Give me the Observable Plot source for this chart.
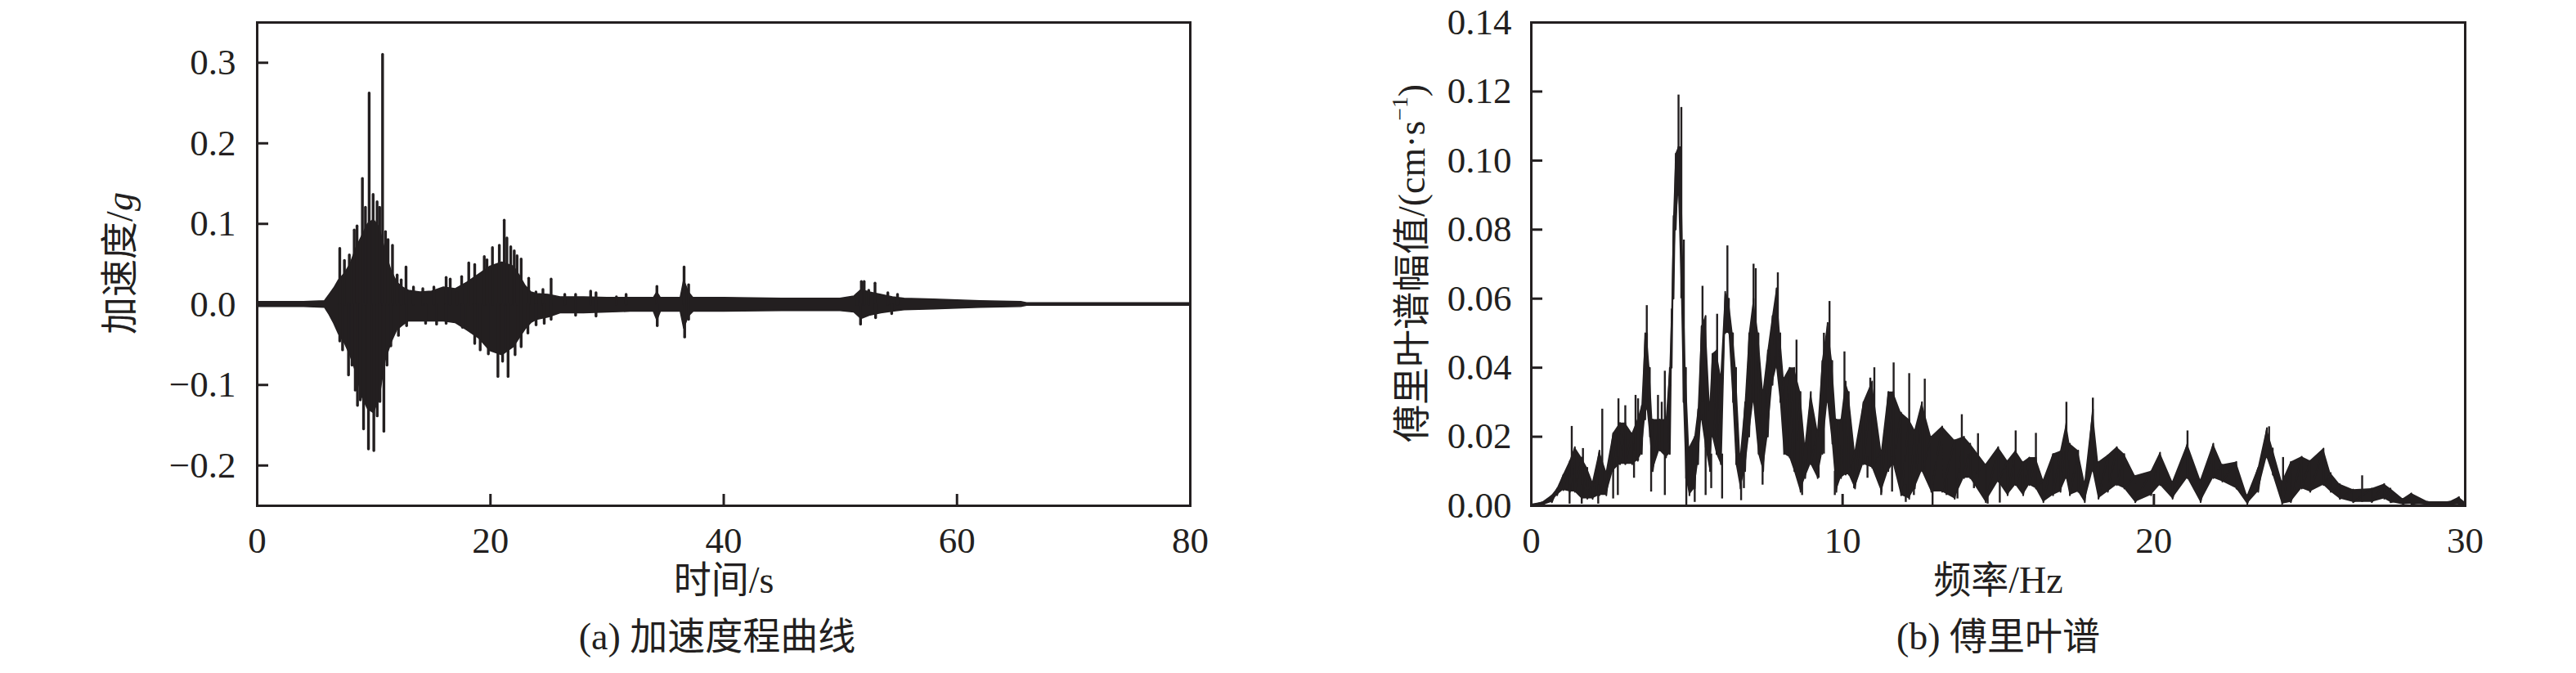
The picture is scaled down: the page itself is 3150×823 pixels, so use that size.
<!DOCTYPE html>
<html>
<head>
<meta charset="utf-8">
<script src="https://cdn.jsdelivr.net/npm/d3@7"></script>
<script src="https://cdn.jsdelivr.net/npm/@observablehq/plot@0.6"></script>
<style>
  html, body { margin: 0; padding: 0; background: #fff; }
  #wrap { position: relative; width: 3150px; height: 823px; background: #fff; overflow: hidden; }
  .panel { position: absolute; top: 0; }
  .ylab { position: absolute; transform: translate(-50%, -50%) rotate(-90deg); white-space: nowrap;
          font-family: "Liberation Serif", "Noto Sans CJK SC", serif; font-size: 46px; color: #231f20; line-height: 1; }
  .ylab sup { font-size: 0.6em; vertical-align: 0.75em; line-height: 0; }
</style>
</head>
<body>
<div id="wrap">
  <div class="panel" id="pa" style="left:0px"></div>
  <div class="panel" id="pb" style="left:1575px"></div>
  <div class="ylab" style="left:147px; top:322px">加速度/<i>g</i></div>
  <div class="ylab" style="left:1727px; top:322px">傅里叶谱幅值/(cm·s<sup>−1</sup>)</div>
</div>
<script>
const INK = "#231f20";
const FONT = '"Liberation Serif", "Noto Sans CJK SC", serif';

// ---------- (a) acceleration time history ----------
const accXTicks = [0, 20, 40, 60, 80];
const accYTicks = [-0.2, -0.1, 0.0, 0.1, 0.2, 0.3];
const accXLabel = "时间/s";
const accCaption = "(a) 加速度程曲线";

// envelope of the dense trace (time s, upper g, lower g)
const accEnvT  = [0, 2, 4, 5.8, 6.2, 6.6, 7.0, 7.5, 8.0, 8.5, 9.0, 9.5, 10.0, 10.5, 11.0, 11.5, 12.0, 12.5, 13.0, 14.0, 15.0, 16.0, 17.0, 18.0, 19.0, 20.0, 21.0, 22.0, 22.5, 23.0, 23.5, 24.0, 25.0, 26.0, 28.0, 30.0, 32.0, 34.0, 34.3, 34.6, 36.3, 36.6, 37.0, 37.4, 40, 45, 50, 51.2, 51.8, 52.5, 53.5, 54.5, 55.5, 58, 62, 65.5, 66, 80];
const accEnvHi = [0.003, 0.003, 0.003, 0.004, 0.012, 0.02, 0.03, 0.038, 0.05, 0.07, 0.085, 0.10, 0.105, 0.095, 0.065, 0.042, 0.027, 0.021, 0.017, 0.015, 0.016, 0.021, 0.019, 0.027, 0.037, 0.047, 0.052, 0.047, 0.036, 0.023, 0.015, 0.013, 0.012, 0.009, 0.009, 0.008, 0.008, 0.008, 0.015, 0.008, 0.008, 0.03, 0.015, 0.008, 0.008, 0.007, 0.007, 0.01, 0.018, 0.015, 0.012, 0.009, 0.007, 0.006, 0.004, 0.003, 0.0015, 0.0015];
const accEnvLo = [-0.003, -0.003, -0.003, -0.004, -0.013, -0.024, -0.037, -0.048, -0.064, -0.085, -0.115, -0.13, -0.135, -0.115, -0.07, -0.048, -0.032, -0.026, -0.021, -0.021, -0.021, -0.021, -0.023, -0.032, -0.042, -0.058, -0.063, -0.053, -0.042, -0.031, -0.023, -0.019, -0.016, -0.011, -0.011, -0.01, -0.009, -0.009, -0.02, -0.009, -0.009, -0.03, -0.015, -0.009, -0.009, -0.008, -0.008, -0.01, -0.018, -0.014, -0.011, -0.009, -0.007, -0.006, -0.004, -0.003, -0.0015, -0.0015];

// individual peaks of the trace (time s, value g)
const accSpikeT = [7.08, 7.48, 7.9, 8.32, 8.56, 9.02, 9.28, 9.6, 9.94, 10.28, 10.5, 10.75, 11.0, 11.22, 11.6, 12.0, 12.35, 12.76, 13.4, 14.2, 15.15, 16.2, 16.55, 17.13, 17.53, 18.14, 18.65, 19.47, 19.7, 20.17, 20.76, 21.18, 21.41, 21.74, 22.04, 22.28, 22.63, 23.28, 23.9, 24.5, 25.2, 26.37, 27.3, 28.59, 29.05, 30.8, 31.63, 34.27, 36.6, 36.99, 51.43, 51.8, 52.04, 52.43, 52.97, 54.07, 54.9,
  7.08, 7.32, 7.83, 8.13, 8.41, 8.6, 8.84, 9.12, 9.54, 10.0, 10.29, 10.52, 10.86, 11.13, 11.46, 12.11, 12.81, 14.44, 15.38, 16.2, 17.6, 18.07, 18.65, 19.12, 19.82, 20.64, 21.04, 21.51, 22.11, 22.63, 23.21, 23.91, 24.61, 25.2, 27.3, 29.05, 34.3, 36.65, 36.99, 51.73, 53.02, 54.4];
const accSpikeV = [0.069, 0.054, 0.061, 0.092, 0.097, 0.156, 0.12, 0.262, 0.136, 0.127, 0.12, 0.310, 0.09, 0.080, 0.073, 0.036, 0.03, 0.046, 0.021, 0.019, 0.021, 0.033, 0.031, 0.014, 0.034, 0.051, 0.049, 0.059, 0.055, 0.070, 0.073, 0.104, 0.082, 0.071, 0.066, 0.060, 0.056, 0.032, 0.015, 0.018, 0.031, 0.012, 0.012, 0.016, 0.014, 0.009, 0.012, 0.022, 0.046, 0.024, 0.012, 0.028, 0.028, 0.017, 0.026, 0.014, 0.012,
  -0.046, -0.057, -0.088, -0.076, -0.107, -0.126, -0.119, -0.155, -0.180, -0.182, -0.139, -0.121, -0.158, -0.076, -0.052, -0.039, -0.027, -0.024, -0.025, -0.024, -0.029, -0.027, -0.049, -0.057, -0.062, -0.090, -0.071, -0.090, -0.063, -0.053, -0.036, -0.026, -0.024, -0.019, -0.014, -0.015, -0.027, -0.041, -0.019, -0.025, -0.017, -0.012];

// ---------- (b) Fourier spectrum ----------
const specXTicks = [0, 10, 20, 30];
const specYTicks = [0, 0.02, 0.04, 0.06, 0.08, 0.10, 0.12, 0.14];
const specXLabel = "频率/Hz";
const specCaption = "(b) 傅里叶谱";

const specEnvF  = [0, 0.35, 0.66, 0.83, 1.03, 1.24, 1.40, 1.62, 1.8, 1.97, 2.19, 2.41, 2.63, 2.85, 3.02, 3.24, 3.42, 3.55, 3.66, 3.72, 3.81, 3.9, 4.12, 4.33, 4.45, 4.51, 4.57, 4.64, 4.73, 4.82, 4.89, 4.97, 5.08, 5.25, 5.36, 5.47, 5.6, 5.74, 5.82, 5.95, 6.09, 6.23, 6.35, 6.48, 6.58, 6.72, 6.87, 7.0,
  7.14, 7.3, 7.45, 7.6, 7.75, 7.88, 8.0, 8.12, 8.3, 8.45, 8.65, 8.8, 8.98, 9.2, 9.35, 9.52, 9.67, 9.8, 9.95, 10.1, 10.2, 10.4, 10.67, 10.95, 11.25, 11.47, 11.63, 11.88, 12.14, 12.32, 12.55, 12.85, 13.2, 13.6, 13.9, 14.1, 14.6, 15.0, 15.3,
  15.56, 15.8, 16.0, 16.21, 16.45, 16.76, 17.0, 17.19, 17.3, 17.57, 17.78, 18.04, 18.22, 18.52, 18.81, 19.05, 19.4, 19.91, 20.2, 20.6, 21.08, 21.5, 21.91, 22.2, 22.65, 23.0, 23.35, 23.63, 23.82, 24.12, 24.4, 24.75, 25.02, 25.45, 25.68, 25.97, 26.4, 27.0, 27.4, 27.6, 28.0, 28.27, 28.8, 29.5, 29.8, 30];
const specEnvHi = [0.0005, 0.001, 0.003, 0.005, 0.009, 0.013, 0.017, 0.014, 0.011, 0.007, 0.016, 0.010, 0.021, 0.024, 0.024, 0.021, 0.025, 0.029, 0.050, 0.050, 0.040, 0.025, 0.025, 0.025, 0.040, 0.057, 0.084, 0.102, 0.104, 0.104, 0.070, 0.040, 0.017, 0.020, 0.028, 0.052, 0.055, 0.030, 0.044, 0.045, 0.038, 0.062, 0.060, 0.050, 0.040, 0.015, 0.030, 0.050,
  0.060, 0.050, 0.0335, 0.045, 0.055, 0.063, 0.050, 0.037, 0.040, 0.040, 0.033, 0.018, 0.033, 0.022, 0.042, 0.053, 0.042, 0.025, 0.025, 0.036, 0.033, 0.016, 0.030, 0.036, 0.016, 0.033, 0.033, 0.027, 0.025, 0.022, 0.030, 0.020, 0.023, 0.019, 0.020, 0.018, 0.012, 0.017, 0.013,
  0.016, 0.0127, 0.014, 0.014, 0.0075, 0.015, 0.0158, 0.024, 0.018, 0.016, 0.007, 0.028, 0.0127, 0.0146, 0.017, 0.015, 0.0087, 0.010, 0.0154, 0.007, 0.018, 0.0075, 0.018, 0.0119, 0.0127, 0.003, 0.011, 0.0225, 0.0166, 0.007, 0.0127, 0.0142, 0.013, 0.0166, 0.0095, 0.0063, 0.0047, 0.005, 0.0063, 0.005, 0.002, 0.0036, 0.0012, 0.0012, 0.0025, 0.001];
const specEnvLo = [0, 0, 0.001, 0.003, 0.0045, 0.004, 0.004, 0.002, 0.002, 0.002, 0.003, 0.003, 0.010, 0.012, 0.012, 0.012, 0.013, 0.015, 0.025, 0.028, 0.020, 0.010, 0.016, 0.014, 0.015, 0.040, 0.060, 0.080, 0.090, 0.062, 0.030, 0.008, 0.003, 0.005, 0.012, 0.025, 0.017, 0.010, 0.020, 0.015, 0.012, 0.050, 0.050, 0.030, 0.012, 0.005, 0.010, 0.020,
  0.030, 0.015, 0.010, 0.020, 0.035, 0.040, 0.030, 0.015, 0.014, 0.010, 0.004, 0.008, 0.012, 0.008, 0.015, 0.030, 0.018, 0.004, 0.008, 0.009, 0.009, 0.005, 0.012, 0.011, 0.004, 0.010, 0.012, 0.003, 0.002, 0.005, 0.010, 0.004, 0.004, 0.002, 0.008, 0.008, 0.001, 0.007, 0.003,
  0.006, 0.003, 0.006, 0.005, 0.001, 0.003, 0.004, 0.008, 0.003, 0.004, 0.001, 0.010, 0.002, 0.004, 0.006, 0.005, 0.001, 0.003, 0.006, 0.002, 0.008, 0.001, 0.008, 0.007, 0.005, 0.0005, 0.004, 0.014, 0.009, 0.0005, 0.001, 0.005, 0.004, 0.006, 0.004, 0.002, 0.001, 0.001, 0.002, 0.001, 0.0003, 0.0005, 0.0002, 0.0002, 0.0003, 0];

// individual vertical strokes of the spectrum line (peaks and dips): frequency, low, high
const specStrokeF  = [1.30, 1.66, 2.28, 2.8, 3.02, 3.35, 3.43, 3.71, 4.07, 4.19, 4.29, 4.73, 4.82, 4.9, 5.5, 5.97, 6.3, 7.14, 7.21, 7.92, 8.52, 9.4, 9.58, 10.06, 10.89, 11.02, 11.64, 12.14, 12.64, 13.83, 14.35, 15.56, 16.21, 17.19, 18.04, 21.08, 23.7, 24.15, 26.69, 29.8,
  1.23, 1.62, 2.15, 2.63, 2.78, 3.3, 3.85, 4.29, 4.98, 5.25, 5.6, 5.78, 6.13, 6.74, 6.83, 7.43, 8.7, 9.23, 9.75, 10.37, 10.8, 11.24, 11.59, 12.03, 12.29, 12.89, 13.34, 13.69, 14.22, 14.66, 15.05];
const specStrokeLo = [0.008, 0.004, 0.008, 0.012, 0.012, 0.014, 0.013, 0.03, 0.016, 0.016, 0.016, 0.09, 0.06, 0.03, 0.03, 0.02, 0.05, 0.03, 0.03, 0.04, 0.012, 0.015, 0.03, 0.01, 0.012, 0.012, 0.012, 0.004, 0.01, 0.008, 0.008, 0.006, 0.006, 0.008, 0.01, 0.008, 0.014, 0.001, 0.001, 0.0,
  0.0005, 0.0005, 0.0005, 0.002, 0.003, 0.008, 0.004, 0.003, 0.0, 0.001, 0.003, 0.005, 0.002, 0.0015, 0.005, 0.006, 0.003, 0.008, 0.003, 0.005, 0.008, 0.003, 0.004, 0.001, 0.003, 0.0, 0.003, 0.002, 0.005, 0.0005, 0.0008];
const specStrokeHi = [0.023, 0.0166, 0.028, 0.031, 0.029, 0.032, 0.031, 0.058, 0.032, 0.030, 0.039, 0.119, 0.1154, 0.077, 0.0636, 0.0555, 0.0753, 0.070, 0.0687, 0.0675, 0.048, 0.050, 0.0592, 0.0446, 0.037, 0.040, 0.0414, 0.0383, 0.0367, 0.0264, 0.0209, 0.0217, 0.021, 0.030, 0.0312, 0.0217, 0.0229, 0.014, 0.0087, 0.0025,
  0.006, 0.006, 0.006, 0.012, 0.014, 0.016, 0.02, 0.016, 0.02, 0.01, 0.02, 0.015, 0.015, 0.01, 0.012, 0.012, 0.01, 0.012, 0.01, 0.01, 0.014, 0.008, 0.014, 0.006, 0.008, 0.006, 0.008, 0.006, 0.01, 0.004, 0.007];

// ---------- build rows ----------
const accEnv = accEnvT.map((t, i) => ({t, hi: accEnvHi[i], lo: accEnvLo[i]}));
const accSpikes = accSpikeT.map((t, i) => ({t, v: accSpikeV[i]}));
const specEnv = specEnvF.map((f, i) => ({f, hi: specEnvHi[i], lo: specEnvLo[i]}));
// the spectrum trace runs from the top to the bottom of the band at each read frequency
const specZig = specEnv.flatMap(d => [{f: d.f, v: d.hi}, {f: d.f, v: d.lo}]);
const specStrokes = specStrokeF.map((f, i) => ({f, lo: specStrokeLo[i], hi: specStrokeHi[i]}));

const common = {
  width: 1575, height: 823, marginTop: 27, marginBottom: 205,
  style: {fontFamily: FONT, fontSize: "45px", color: INK, background: "#fff", overflow: "visible"}
};

const plotA = Plot.plot({
  ...common,
  marginLeft: 314, marginRight: 120,
  x: {domain: [0, 80]},
  y: {domain: [-0.25, 0.35]},
  marks: [
    Plot.areaY(accEnv, {x: "t", y1: "lo", y2: "hi", fill: INK, stroke: INK, strokeWidth: 1.5}),
    Plot.ruleX(accSpikes, {x: "t", y1: 0, y2: "v", stroke: INK, strokeWidth: 3.4, strokeLinecap: "round"}),
    Plot.frame({stroke: INK, strokeWidth: 3}),
    Plot.axisX(accXTicks, {tickSize: -14, strokeWidth: 3, stroke: INK, tickFormat: () => "", label: null}),
    Plot.axisX(accXTicks, {tickSize: 0, tickPadding: 26, fontSize: 45, fill: INK, label: null}),
    Plot.axisY(accYTicks, {tickSize: -14, strokeWidth: 3, stroke: INK, tickFormat: () => "", label: null}),
    Plot.axisY(accYTicks, {tickSize: 0, tickPadding: 26, fontSize: 45, fill: INK, tickFormat: d3.format(".1f"), label: null}),
    Plot.text([accXLabel], {frameAnchor: "bottom", dy: 106, text: d => d, fontSize: 46, fill: INK}),
    Plot.text([accCaption], {frameAnchor: "bottom", dy: 175, dx: -8, text: d => d, fontSize: 46, fill: INK})
  ]
});

const plotB = Plot.plot({
  ...common,
  marginLeft: 297, marginRight: 136,
  x: {domain: [0, 30]},
  y: {domain: [0, 0.14]},
  marks: [
    Plot.areaY(specEnv, {x: "f", y1: "lo", y2: "hi", fill: INK}),
    Plot.line(specZig, {x: "f", y: "v", stroke: INK, strokeWidth: 2}),
    Plot.ruleX(specStrokes, {x: "f", y1: "lo", y2: "hi", stroke: INK, strokeWidth: 2.4}),
    Plot.frame({stroke: INK, strokeWidth: 3}),
    Plot.axisX(specXTicks, {tickSize: -14, strokeWidth: 3, stroke: INK, tickFormat: () => "", label: null}),
    Plot.axisX(specXTicks, {tickSize: 0, tickPadding: 26, fontSize: 45, fill: INK, label: null}),
    Plot.axisY(specYTicks, {tickSize: -14, strokeWidth: 3, stroke: INK, tickFormat: () => "", label: null}),
    Plot.axisY(specYTicks, {tickSize: 0, tickPadding: 24, fontSize: 45, fill: INK, tickFormat: d3.format(".2f"), label: null}),
    Plot.text([specXLabel], {frameAnchor: "bottom", dy: 106, text: d => d, fontSize: 46, fill: INK}),
    Plot.text([specCaption], {frameAnchor: "bottom", dy: 175, text: d => d, fontSize: 46, fill: INK})
  ]
});

document.getElementById("pa").appendChild(plotA);
document.getElementById("pb").appendChild(plotB);
</script>
</body>
</html>
